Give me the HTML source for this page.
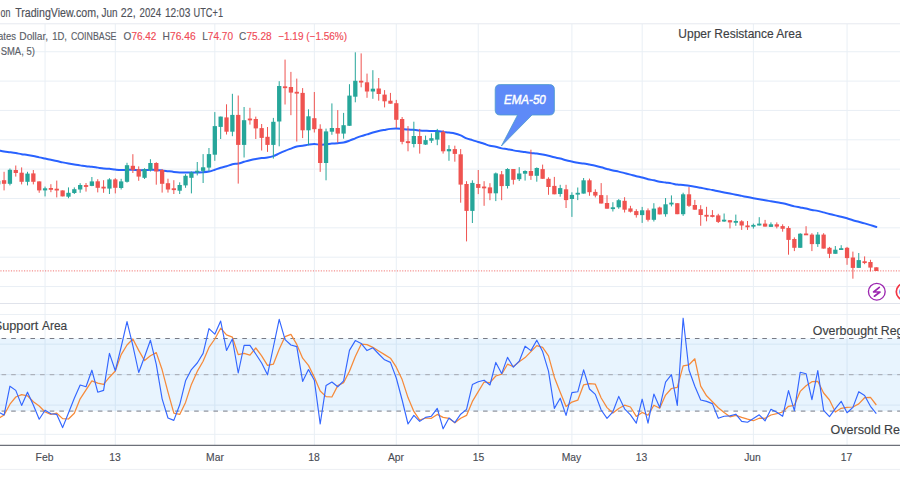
<!DOCTYPE html>
<html><head><meta charset="utf-8"><style>
html,body{margin:0;padding:0;width:900px;height:500px;overflow:hidden;background:#fff;}
body{position:relative;font-family:"Liberation Sans",sans-serif;}

</style></head><body>
<svg width="900" height="500" viewBox="0 0 900 500" style="position:absolute;left:0;top:0">
<rect width="900" height="500" fill="#fff"/>
<line x1="45.05" y1="24" x2="45.05" y2="303" stroke="#e9eff5" stroke-width="1"/>
<line x1="45.05" y1="303.5" x2="45.05" y2="445" stroke="#e9eff5" stroke-width="1"/>
<line x1="115.298" y1="24" x2="115.298" y2="303" stroke="#e9eff5" stroke-width="1"/>
<line x1="115.298" y1="303.5" x2="115.298" y2="445" stroke="#e9eff5" stroke-width="1"/>
<line x1="214.81599999999997" y1="24" x2="214.81599999999997" y2="303" stroke="#e9eff5" stroke-width="1"/>
<line x1="214.81599999999997" y1="303.5" x2="214.81599999999997" y2="445" stroke="#e9eff5" stroke-width="1"/>
<line x1="314.334" y1="24" x2="314.334" y2="303" stroke="#e9eff5" stroke-width="1"/>
<line x1="314.334" y1="303.5" x2="314.334" y2="445" stroke="#e9eff5" stroke-width="1"/>
<line x1="396.29" y1="24" x2="396.29" y2="303" stroke="#e9eff5" stroke-width="1"/>
<line x1="396.29" y1="303.5" x2="396.29" y2="445" stroke="#e9eff5" stroke-width="1"/>
<line x1="478.24600000000004" y1="24" x2="478.24600000000004" y2="303" stroke="#e9eff5" stroke-width="1"/>
<line x1="478.24600000000004" y1="303.5" x2="478.24600000000004" y2="445" stroke="#e9eff5" stroke-width="1"/>
<line x1="571.91" y1="24" x2="571.91" y2="303" stroke="#e9eff5" stroke-width="1"/>
<line x1="571.91" y1="303.5" x2="571.91" y2="445" stroke="#e9eff5" stroke-width="1"/>
<line x1="642.158" y1="24" x2="642.158" y2="303" stroke="#e9eff5" stroke-width="1"/>
<line x1="642.158" y1="303.5" x2="642.158" y2="445" stroke="#e9eff5" stroke-width="1"/>
<line x1="753.384" y1="24" x2="753.384" y2="303" stroke="#e9eff5" stroke-width="1"/>
<line x1="753.384" y1="303.5" x2="753.384" y2="445" stroke="#e9eff5" stroke-width="1"/>
<line x1="847.048" y1="24" x2="847.048" y2="303" stroke="#e9eff5" stroke-width="1"/>
<line x1="847.048" y1="303.5" x2="847.048" y2="445" stroke="#e9eff5" stroke-width="1"/>
<line x1="0" y1="51.75" x2="900" y2="51.75" stroke="#e9eff5" stroke-width="1"/>
<line x1="0" y1="81.1" x2="900" y2="81.1" stroke="#e9eff5" stroke-width="1"/>
<line x1="0" y1="110.45" x2="900" y2="110.45" stroke="#e9eff5" stroke-width="1"/>
<line x1="0" y1="139.8" x2="900" y2="139.8" stroke="#e9eff5" stroke-width="1"/>
<line x1="0" y1="169.15" x2="900" y2="169.15" stroke="#e9eff5" stroke-width="1"/>
<line x1="0" y1="198.5" x2="900" y2="198.5" stroke="#e9eff5" stroke-width="1"/>
<line x1="0" y1="227.85000000000002" x2="900" y2="227.85000000000002" stroke="#e9eff5" stroke-width="1"/>
<line x1="0" y1="257.20000000000005" x2="900" y2="257.20000000000005" stroke="#e9eff5" stroke-width="1"/>
<line x1="0" y1="286.55" x2="900" y2="286.55" stroke="#e9eff5" stroke-width="1"/>
<line x1="0" y1="314.5" x2="900" y2="314.5" stroke="#e9eff5" stroke-width="1" opacity="0.9"/>
<line x1="0" y1="344.2" x2="900" y2="344.2" stroke="#e9eff5" stroke-width="1" opacity="0.9"/>
<line x1="0" y1="374.6" x2="900" y2="374.6" stroke="#e9eff5" stroke-width="1" opacity="0.9"/>
<line x1="0" y1="405.1" x2="900" y2="405.1" stroke="#e9eff5" stroke-width="1" opacity="0.9"/>
<line x1="0" y1="434.35" x2="900" y2="434.35" stroke="#e9eff5" stroke-width="1" opacity="0.9"/>
<rect x="0" y="338.5" width="900" height="72.6" fill="#2196f3" fill-opacity="0.1"/>
<line x1="0" y1="23.8" x2="900" y2="23.8" stroke="#e6e9ef" stroke-width="1"/>
<line x1="0" y1="303.5" x2="900" y2="303.5" stroke="#e0e3eb" stroke-width="1"/>
<line x1="0" y1="445.3" x2="900" y2="445.3" stroke="#6d7079" stroke-width="1.3"/>
<line x1="0" y1="469.4" x2="900" y2="469.4" stroke="#eceff3" stroke-width="1"/>
<line x1="-8.08" y1="338.5" x2="900" y2="338.5" stroke="#787b86" stroke-width="1" stroke-dasharray="4.6 5.03"/>
<line x1="-8.08" y1="374.7" x2="900" y2="374.7" stroke="#a3a6ae" stroke-width="1" stroke-dasharray="4.6 5.03"/>
<line x1="-8.08" y1="411.1" x2="900" y2="411.1" stroke="#787b86" stroke-width="1" stroke-dasharray="4.6 5.03"/>
<line x1="-2.226" y1="270.9" x2="900" y2="270.9" stroke="#ef5350" stroke-width="1" stroke-dasharray="1.15 1.476" opacity="0.8"/>
<path d="M-7.64,149.0 C-6.66,149.21 -3.73,149.82 -1.78,150.25 C0.17,150.68 2.12,151.22 4.07,151.56 C6.02,151.90 7.98,152.03 9.93,152.28 C11.88,152.53 13.83,152.77 15.78,153.09 C17.73,153.41 19.68,153.91 21.63,154.22 C23.58,154.53 25.54,154.68 27.49,154.98 C29.44,155.28 31.39,155.63 33.34,156.03 C35.29,156.43 37.25,156.95 39.2,157.38 C41.15,157.81 43.10,158.19 45.05,158.59 C47.00,158.99 48.95,159.40 50.9,159.8 C52.85,160.20 54.81,160.56 56.76,160.99 C58.71,161.42 60.66,161.95 62.61,162.38 C64.56,162.81 66.52,163.20 68.47,163.57 C70.42,163.94 72.37,164.28 74.32,164.58 C76.27,164.88 78.22,165.11 80.17,165.38 C82.12,165.65 84.08,165.97 86.03,166.21 C87.98,166.45 89.93,166.57 91.88,166.81 C93.83,167.05 95.79,167.36 97.74,167.63 C99.69,167.90 101.64,168.22 103.59,168.43 C105.54,168.64 107.49,168.67 109.44,168.86 C111.39,169.06 113.35,169.40 115.3,169.6 C117.25,169.80 119.20,170.02 121.15,170.07 C123.10,170.12 125.06,169.90 127.01,169.87 C128.96,169.84 130.91,169.83 132.86,169.87 C134.81,169.91 136.76,170.10 138.71,170.14 C140.66,170.18 142.62,170.15 144.57,170.1 C146.52,170.05 148.47,169.85 150.42,169.82 C152.37,169.78 154.33,169.79 156.28,169.89 C158.23,169.99 160.18,170.22 162.13,170.43 C164.08,170.65 166.03,170.93 167.98,171.18 C169.93,171.43 171.89,171.70 173.84,171.91 C175.79,172.12 177.74,172.31 179.69,172.42 C181.64,172.53 183.60,172.54 185.55,172.56 C187.50,172.58 189.45,172.56 191.4,172.55 C193.35,172.54 195.30,172.54 197.25,172.49 C199.20,172.44 201.16,172.43 203.11,172.28 C205.06,172.13 207.01,171.98 208.96,171.57 C210.91,171.16 212.87,170.44 214.82,169.79 C216.77,169.14 218.72,168.28 220.67,167.7 C222.62,167.12 224.57,166.86 226.52,166.29 C228.47,165.72 230.43,164.73 232.38,164.27 C234.33,163.81 236.28,163.92 238.23,163.51 C240.18,163.10 242.14,162.37 244.09,161.81 C246.04,161.25 247.99,160.65 249.94,160.17 C251.89,159.69 253.84,159.28 255.79,158.93 C257.74,158.59 259.70,158.32 261.65,158.1 C263.60,157.88 265.55,157.90 267.5,157.58 C269.45,157.26 271.41,156.87 273.36,156.18 C275.31,155.49 277.26,154.32 279.21,153.43 C281.16,152.54 283.11,151.66 285.06,150.85 C287.01,150.04 288.97,149.31 290.92,148.57 C292.87,147.83 294.82,146.88 296.77,146.41 C298.72,145.94 300.68,146.07 302.63,145.77 C304.58,145.47 306.53,144.91 308.48,144.62 C310.43,144.33 312.38,143.99 314.33,144.01 C316.28,144.03 318.24,144.72 320.19,144.76 C322.14,144.80 324.09,144.42 326.04,144.23 C327.99,144.04 329.95,143.77 331.9,143.6 C333.85,143.43 335.80,143.39 337.75,143.21 C339.70,143.03 341.65,142.93 343.6,142.5 C345.55,142.07 347.51,141.36 349.46,140.66 C351.41,139.96 353.36,139.07 355.31,138.31 C357.26,137.55 359.22,136.78 361.17,136.12 C363.12,135.46 365.07,134.96 367.02,134.37 C368.97,133.78 370.92,133.13 372.87,132.58 C374.82,132.03 376.78,131.52 378.73,131.07 C380.68,130.62 382.63,130.27 384.58,129.9 C386.53,129.53 388.49,129.11 390.44,128.88 C392.39,128.65 394.34,128.49 396.29,128.52 C398.24,128.55 400.19,128.86 402.14,129.04 C404.09,129.22 406.05,129.46 408.0,129.59 C409.95,129.72 411.90,129.71 413.85,129.84 C415.80,129.97 417.76,130.24 419.71,130.4 C421.66,130.56 423.61,130.67 425.56,130.78 C427.51,130.89 429.46,131.02 431.41,131.07 C433.36,131.12 435.32,130.96 437.27,131.1 C439.22,131.24 441.17,131.64 443.12,131.89 C445.07,132.13 447.03,132.32 448.98,132.57 C450.93,132.82 452.88,132.94 454.83,133.41 C456.78,133.88 458.73,134.58 460.68,135.41 C462.63,136.24 464.59,137.59 466.54,138.37 C468.49,139.16 470.44,139.52 472.39,140.12 C474.34,140.72 476.30,141.38 478.25,141.99 C480.20,142.60 482.15,143.17 484.1,143.79 C486.05,144.41 488.00,145.22 489.95,145.73 C491.90,146.23 493.86,146.38 495.81,146.82 C497.76,147.26 499.71,147.97 501.66,148.36 C503.61,148.75 505.57,148.83 507.52,149.17 C509.47,149.50 511.42,150.02 513.37,150.37 C515.32,150.72 517.27,151.00 519.22,151.28 C521.17,151.56 523.13,151.77 525.08,152.05 C527.03,152.33 528.98,152.73 530.93,152.98 C532.88,153.23 534.84,153.31 536.79,153.57 C538.74,153.83 540.69,154.18 542.64,154.56 C544.59,154.94 546.54,155.37 548.49,155.83 C550.44,156.29 552.40,156.89 554.35,157.34 C556.30,157.79 558.25,158.08 560.2,158.55 C562.15,159.02 564.11,159.68 566.06,160.18 C568.01,160.68 569.96,161.10 571.91,161.54 C573.86,161.97 575.81,162.47 577.76,162.79 C579.71,163.11 581.67,163.18 583.62,163.48 C585.57,163.78 587.52,164.21 589.47,164.6 C591.42,164.99 593.38,165.37 595.33,165.82 C597.28,166.27 599.23,166.77 601.18,167.29 C603.13,167.81 605.08,168.39 607.03,168.92 C608.98,169.44 610.94,169.99 612.89,170.44 C614.84,170.89 616.79,171.17 618.74,171.61 C620.69,172.05 622.65,172.60 624.6,173.1 C626.55,173.60 628.50,174.09 630.45,174.61 C632.40,175.13 634.35,175.71 636.3,176.2 C638.25,176.69 640.21,177.04 642.16,177.54 C644.11,178.04 646.06,178.73 648.01,179.2 C649.96,179.67 651.92,179.94 653.87,180.35 C655.82,180.76 657.77,181.31 659.72,181.68 C661.67,182.05 663.62,182.29 665.57,182.57 C667.52,182.85 669.48,183.04 671.43,183.38 C673.38,183.72 675.33,184.32 677.28,184.59 C679.23,184.86 681.19,184.77 683.14,184.97 C685.09,185.17 687.04,185.50 688.99,185.79 C690.94,186.08 692.89,186.38 694.84,186.72 C696.79,187.06 698.75,187.46 700.7,187.83 C702.65,188.20 704.60,188.58 706.55,188.95 C708.50,189.32 710.46,189.65 712.41,190.04 C714.36,190.43 716.31,190.89 718.26,191.29 C720.21,191.69 722.16,192.03 724.11,192.41 C726.06,192.79 728.02,193.21 729.97,193.59 C731.92,193.97 733.87,194.30 735.82,194.68 C737.77,195.06 739.73,195.48 741.68,195.88 C743.63,196.28 745.58,196.71 747.53,197.1 C749.48,197.49 751.43,197.85 753.38,198.2 C755.33,198.55 757.29,198.85 759.24,199.2 C761.19,199.54 763.14,199.93 765.09,200.27 C767.04,200.61 769.00,200.90 770.95,201.22 C772.90,201.54 774.85,201.87 776.8,202.21 C778.75,202.55 780.70,202.84 782.65,203.25 C784.60,203.66 786.56,204.17 788.51,204.69 C790.46,205.21 792.41,205.92 794.36,206.38 C796.31,206.84 798.27,207.09 800.22,207.45 C802.17,207.81 804.12,208.12 806.07,208.53 C808.02,208.94 809.97,209.53 811.92,209.92 C813.87,210.31 815.83,210.48 817.78,210.89 C819.73,211.30 821.68,211.85 823.63,212.37 C825.58,212.89 827.54,213.49 829.49,213.99 C831.44,214.49 833.39,214.94 835.34,215.39 C837.29,215.84 839.24,216.19 841.19,216.68 C843.14,217.17 845.10,217.71 847.05,218.3 C849.00,218.90 850.95,219.66 852.9,220.25 C854.85,220.84 856.81,221.28 858.76,221.81 C860.71,222.34 862.66,222.85 864.61,223.41 C866.56,223.97 868.51,224.55 870.46,225.14 C872.41,225.73 875.34,226.64 876.32,226.94" fill="none" stroke="#2962ff" stroke-width="2" stroke-linejoin="round" stroke-linecap="round"/>
<line x1="-1.78" y1="179.5" x2="-1.78" y2="185.5" stroke="#26a69a" stroke-width="1"/>
<rect x="-3.93" y="180.8" width="4.3" height="3.60" fill="#26a69a"/>
<line x1="4.07" y1="171.8" x2="4.07" y2="190.4" stroke="#ef5350" stroke-width="1"/>
<rect x="1.92" y="180.2" width="4.3" height="3.60" fill="#ef5350"/>
<line x1="9.93" y1="168.5" x2="9.93" y2="185.4" stroke="#26a69a" stroke-width="1"/>
<rect x="7.78" y="169.8" width="4.3" height="14.00" fill="#26a69a"/>
<line x1="15.78" y1="165.5" x2="15.78" y2="176.6" stroke="#ef5350" stroke-width="1"/>
<rect x="13.63" y="170.0" width="4.3" height="3.00" fill="#ef5350"/>
<line x1="21.63" y1="167.4" x2="21.63" y2="184.4" stroke="#ef5350" stroke-width="1"/>
<rect x="19.48" y="172.7" width="4.3" height="9.10" fill="#ef5350"/>
<line x1="27.49" y1="171.8" x2="27.49" y2="185.4" stroke="#26a69a" stroke-width="1"/>
<rect x="25.34" y="173.6" width="4.3" height="8.20" fill="#26a69a"/>
<line x1="33.34" y1="170.0" x2="33.34" y2="184.4" stroke="#ef5350" stroke-width="1"/>
<rect x="31.19" y="173.4" width="4.3" height="8.40" fill="#ef5350"/>
<line x1="39.20" y1="181.4" x2="39.20" y2="192.8" stroke="#ef5350" stroke-width="1"/>
<rect x="37.05" y="181.4" width="4.3" height="9.00" fill="#ef5350"/>
<line x1="45.05" y1="186.6" x2="45.05" y2="196.4" stroke="#26a69a" stroke-width="1"/>
<rect x="42.90" y="188.3" width="4.3" height="2.10" fill="#26a69a"/>
<line x1="50.90" y1="184.2" x2="50.90" y2="192.2" stroke="#ef5350" stroke-width="1"/>
<rect x="48.75" y="188.0" width="4.3" height="1.80" fill="#ef5350"/>
<line x1="56.76" y1="180.6" x2="56.76" y2="197.4" stroke="#ef5350" stroke-width="1"/>
<rect x="54.61" y="188.7" width="4.3" height="1.80" fill="#ef5350"/>
<line x1="62.61" y1="190.4" x2="62.61" y2="196.4" stroke="#ef5350" stroke-width="1"/>
<rect x="60.46" y="190.4" width="4.3" height="6.00" fill="#ef5350"/>
<line x1="68.47" y1="187.4" x2="68.47" y2="198.2" stroke="#26a69a" stroke-width="1"/>
<rect x="66.32" y="192.8" width="4.3" height="3.90" fill="#26a69a"/>
<line x1="74.32" y1="187.4" x2="74.32" y2="194.0" stroke="#26a69a" stroke-width="1"/>
<rect x="72.17" y="189.2" width="4.3" height="3.80" fill="#26a69a"/>
<line x1="80.17" y1="183.2" x2="80.17" y2="192.8" stroke="#26a69a" stroke-width="1"/>
<rect x="78.02" y="185.0" width="4.3" height="4.50" fill="#26a69a"/>
<line x1="86.03" y1="183.0" x2="86.03" y2="191.6" stroke="#ef5350" stroke-width="1"/>
<rect x="83.88" y="185.1" width="4.3" height="1.80" fill="#ef5350"/>
<line x1="91.88" y1="177.0" x2="91.88" y2="186.2" stroke="#26a69a" stroke-width="1"/>
<rect x="89.73" y="181.4" width="4.3" height="4.50" fill="#26a69a"/>
<line x1="97.74" y1="179.2" x2="97.74" y2="192.4" stroke="#ef5350" stroke-width="1"/>
<rect x="95.59" y="181.3" width="4.3" height="6.50" fill="#ef5350"/>
<line x1="103.59" y1="180.2" x2="103.59" y2="192.8" stroke="#ef5350" stroke-width="1"/>
<rect x="101.44" y="186.7" width="4.3" height="1.80" fill="#ef5350"/>
<line x1="109.44" y1="178.2" x2="109.44" y2="194.0" stroke="#26a69a" stroke-width="1"/>
<rect x="107.29" y="179.4" width="4.3" height="9.20" fill="#26a69a"/>
<line x1="115.30" y1="178.2" x2="115.30" y2="193.4" stroke="#ef5350" stroke-width="1"/>
<rect x="113.15" y="179.4" width="4.3" height="8.40" fill="#ef5350"/>
<line x1="121.15" y1="178.8" x2="121.15" y2="189.5" stroke="#26a69a" stroke-width="1"/>
<rect x="119.00" y="181.4" width="4.3" height="6.60" fill="#26a69a"/>
<line x1="127.01" y1="162.8" x2="127.01" y2="182.6" stroke="#26a69a" stroke-width="1"/>
<rect x="124.86" y="165.2" width="4.3" height="16.60" fill="#26a69a"/>
<line x1="132.86" y1="154.2" x2="132.86" y2="173.0" stroke="#ef5350" stroke-width="1"/>
<rect x="130.71" y="165.8" width="4.3" height="4.00" fill="#ef5350"/>
<line x1="138.71" y1="166.4" x2="138.71" y2="180.8" stroke="#ef5350" stroke-width="1"/>
<rect x="136.56" y="169.2" width="4.3" height="7.40" fill="#ef5350"/>
<line x1="144.57" y1="168.2" x2="144.57" y2="179.0" stroke="#26a69a" stroke-width="1"/>
<rect x="142.42" y="169.2" width="4.3" height="8.60" fill="#26a69a"/>
<line x1="150.42" y1="159.2" x2="150.42" y2="171.5" stroke="#26a69a" stroke-width="1"/>
<rect x="148.27" y="163.0" width="4.3" height="7.00" fill="#26a69a"/>
<line x1="156.28" y1="162.2" x2="156.28" y2="184.7" stroke="#ef5350" stroke-width="1"/>
<rect x="154.13" y="163.0" width="4.3" height="8.50" fill="#ef5350"/>
<line x1="162.13" y1="169.0" x2="162.13" y2="192.6" stroke="#ef5350" stroke-width="1"/>
<rect x="159.98" y="170.0" width="4.3" height="13.80" fill="#ef5350"/>
<line x1="167.98" y1="178.7" x2="167.98" y2="192.6" stroke="#ef5350" stroke-width="1"/>
<rect x="165.83" y="183.2" width="4.3" height="6.30" fill="#ef5350"/>
<line x1="173.84" y1="180.2" x2="173.84" y2="194.0" stroke="#ef5350" stroke-width="1"/>
<rect x="171.69" y="188.29999999999998" width="4.3" height="1.80" fill="#ef5350"/>
<line x1="179.69" y1="182.3" x2="179.69" y2="194.0" stroke="#26a69a" stroke-width="1"/>
<rect x="177.54" y="185.0" width="4.3" height="5.70" fill="#26a69a"/>
<line x1="185.55" y1="174.2" x2="185.55" y2="187.8" stroke="#26a69a" stroke-width="1"/>
<rect x="183.40" y="175.8" width="4.3" height="9.60" fill="#26a69a"/>
<line x1="191.40" y1="171.5" x2="191.40" y2="193.4" stroke="#26a69a" stroke-width="1"/>
<rect x="189.25" y="172.4" width="4.3" height="5.40" fill="#26a69a"/>
<line x1="197.25" y1="162.0" x2="197.25" y2="175.4" stroke="#26a69a" stroke-width="1"/>
<rect x="195.10" y="170.70000000000002" width="4.3" height="1.80" fill="#26a69a"/>
<line x1="203.11" y1="154.1" x2="203.11" y2="183.0" stroke="#26a69a" stroke-width="1"/>
<rect x="200.96" y="167.3" width="4.3" height="3.60" fill="#26a69a"/>
<line x1="208.96" y1="148.0" x2="208.96" y2="170.9" stroke="#26a69a" stroke-width="1"/>
<rect x="206.81" y="154.1" width="4.3" height="13.50" fill="#26a69a"/>
<line x1="214.82" y1="112.1" x2="214.82" y2="160.8" stroke="#26a69a" stroke-width="1"/>
<rect x="212.67" y="126.1" width="4.3" height="28.60" fill="#26a69a"/>
<line x1="220.67" y1="116.6" x2="220.67" y2="139.0" stroke="#26a69a" stroke-width="1"/>
<rect x="218.52" y="116.6" width="4.3" height="10.30" fill="#26a69a"/>
<line x1="226.52" y1="104.3" x2="226.52" y2="134.5" stroke="#ef5350" stroke-width="1"/>
<rect x="224.37" y="117.4" width="4.3" height="14.30" fill="#ef5350"/>
<line x1="232.38" y1="93.8" x2="232.38" y2="136.2" stroke="#26a69a" stroke-width="1"/>
<rect x="230.23" y="114.9" width="4.3" height="16.80" fill="#26a69a"/>
<line x1="238.23" y1="95.5" x2="238.23" y2="183.6" stroke="#ef5350" stroke-width="1"/>
<rect x="236.08" y="114.9" width="4.3" height="30.00" fill="#ef5350"/>
<line x1="244.09" y1="107.0" x2="244.09" y2="157.5" stroke="#26a69a" stroke-width="1"/>
<rect x="241.94" y="120.2" width="4.3" height="24.70" fill="#26a69a"/>
<line x1="249.94" y1="107.8" x2="249.94" y2="124.6" stroke="#ef5350" stroke-width="1"/>
<rect x="247.79" y="118.55" width="4.3" height="1.80" fill="#ef5350"/>
<line x1="255.79" y1="116.6" x2="255.79" y2="139.0" stroke="#ef5350" stroke-width="1"/>
<rect x="253.64" y="119.0" width="4.3" height="9.40" fill="#ef5350"/>
<line x1="261.65" y1="124.0" x2="261.65" y2="150.5" stroke="#ef5350" stroke-width="1"/>
<rect x="259.50" y="128.1" width="4.3" height="9.80" fill="#ef5350"/>
<line x1="267.50" y1="127.0" x2="267.50" y2="151.9" stroke="#ef5350" stroke-width="1"/>
<rect x="265.35" y="136.8" width="4.3" height="8.10" fill="#ef5350"/>
<line x1="273.36" y1="117.9" x2="273.36" y2="158.6" stroke="#26a69a" stroke-width="1"/>
<rect x="271.21" y="121.8" width="4.3" height="23.10" fill="#26a69a"/>
<line x1="279.21" y1="81.2" x2="279.21" y2="146.3" stroke="#26a69a" stroke-width="1"/>
<rect x="277.06" y="86.0" width="4.3" height="35.50" fill="#26a69a"/>
<line x1="285.06" y1="59.6" x2="285.06" y2="104.5" stroke="#ef5350" stroke-width="1"/>
<rect x="282.91" y="86.35" width="4.3" height="1.80" fill="#ef5350"/>
<line x1="290.92" y1="71.9" x2="290.92" y2="115.2" stroke="#ef5350" stroke-width="1"/>
<rect x="288.77" y="87.0" width="4.3" height="5.60" fill="#ef5350"/>
<line x1="296.77" y1="78.6" x2="296.77" y2="141.5" stroke="#ef5350" stroke-width="1"/>
<rect x="294.62" y="91.8" width="4.3" height="1.80" fill="#ef5350"/>
<line x1="302.63" y1="88.1" x2="302.63" y2="138.1" stroke="#ef5350" stroke-width="1"/>
<rect x="300.48" y="92.9" width="4.3" height="37.40" fill="#ef5350"/>
<line x1="308.48" y1="109.3" x2="308.48" y2="145.4" stroke="#26a69a" stroke-width="1"/>
<rect x="306.33" y="116.3" width="4.3" height="14.00" fill="#26a69a"/>
<line x1="314.33" y1="92.0" x2="314.33" y2="132.5" stroke="#ef5350" stroke-width="1"/>
<rect x="312.18" y="118.2" width="4.3" height="11.00" fill="#ef5350"/>
<line x1="320.19" y1="124.3" x2="320.19" y2="171.9" stroke="#ef5350" stroke-width="1"/>
<rect x="318.04" y="128.8" width="4.3" height="34.20" fill="#ef5350"/>
<line x1="326.04" y1="128.6" x2="326.04" y2="180.3" stroke="#26a69a" stroke-width="1"/>
<rect x="323.89" y="131.4" width="4.3" height="31.60" fill="#26a69a"/>
<line x1="331.90" y1="103.4" x2="331.90" y2="134.8" stroke="#26a69a" stroke-width="1"/>
<rect x="329.75" y="128.0" width="4.3" height="3.70" fill="#26a69a"/>
<line x1="337.75" y1="110.1" x2="337.75" y2="142.6" stroke="#ef5350" stroke-width="1"/>
<rect x="335.60" y="128.0" width="4.3" height="5.60" fill="#ef5350"/>
<line x1="343.60" y1="112.9" x2="343.60" y2="138.7" stroke="#26a69a" stroke-width="1"/>
<rect x="341.45" y="125.2" width="4.3" height="8.40" fill="#26a69a"/>
<line x1="349.46" y1="84.2" x2="349.46" y2="125.8" stroke="#26a69a" stroke-width="1"/>
<rect x="347.31" y="95.6" width="4.3" height="30.20" fill="#26a69a"/>
<line x1="355.31" y1="52.3" x2="355.31" y2="102.3" stroke="#26a69a" stroke-width="1"/>
<rect x="353.16" y="80.8" width="4.3" height="15.90" fill="#26a69a"/>
<line x1="361.17" y1="53.4" x2="361.17" y2="87.3" stroke="#ef5350" stroke-width="1"/>
<rect x="359.02" y="80.75" width="4.3" height="1.80" fill="#ef5350"/>
<line x1="367.02" y1="73.6" x2="367.02" y2="97.8" stroke="#ef5350" stroke-width="1"/>
<rect x="364.87" y="82.3" width="4.3" height="9.20" fill="#ef5350"/>
<line x1="372.87" y1="70.2" x2="372.87" y2="98.8" stroke="#26a69a" stroke-width="1"/>
<rect x="370.72" y="88.7" width="4.3" height="2.80" fill="#26a69a"/>
<line x1="378.73" y1="78.0" x2="378.73" y2="100.7" stroke="#ef5350" stroke-width="1"/>
<rect x="376.58" y="88.5" width="4.3" height="5.50" fill="#ef5350"/>
<line x1="384.58" y1="90.1" x2="384.58" y2="107.4" stroke="#ef5350" stroke-width="1"/>
<rect x="382.43" y="94.6" width="4.3" height="6.70" fill="#ef5350"/>
<line x1="390.44" y1="92.9" x2="390.44" y2="103.7" stroke="#ef5350" stroke-width="1"/>
<rect x="388.29" y="100.7" width="4.3" height="3.00" fill="#ef5350"/>
<line x1="396.29" y1="99.9" x2="396.29" y2="128.0" stroke="#ef5350" stroke-width="1"/>
<rect x="394.14" y="103.2" width="4.3" height="16.60" fill="#ef5350"/>
<line x1="402.14" y1="117.0" x2="402.14" y2="144.3" stroke="#ef5350" stroke-width="1"/>
<rect x="399.99" y="119.0" width="4.3" height="22.80" fill="#ef5350"/>
<line x1="408.00" y1="126.1" x2="408.00" y2="151.3" stroke="#ef5350" stroke-width="1"/>
<rect x="405.85" y="141.2" width="4.3" height="1.90" fill="#ef5350"/>
<line x1="413.85" y1="121.7" x2="413.85" y2="147.4" stroke="#26a69a" stroke-width="1"/>
<rect x="411.70" y="136.0" width="4.3" height="8.00" fill="#26a69a"/>
<line x1="419.71" y1="128.9" x2="419.71" y2="153.6" stroke="#ef5350" stroke-width="1"/>
<rect x="417.56" y="136.0" width="4.3" height="8.00" fill="#ef5350"/>
<line x1="425.56" y1="135.6" x2="425.56" y2="145.0" stroke="#26a69a" stroke-width="1"/>
<rect x="423.41" y="140.1" width="4.3" height="4.50" fill="#26a69a"/>
<line x1="431.41" y1="133.4" x2="431.41" y2="142.9" stroke="#26a69a" stroke-width="1"/>
<rect x="429.26" y="138.2" width="4.3" height="2.50" fill="#26a69a"/>
<line x1="437.27" y1="128.9" x2="437.27" y2="145.2" stroke="#26a69a" stroke-width="1"/>
<rect x="435.12" y="131.9" width="4.3" height="7.70" fill="#26a69a"/>
<line x1="443.12" y1="130.0" x2="443.12" y2="153.6" stroke="#ef5350" stroke-width="1"/>
<rect x="440.97" y="131.9" width="4.3" height="19.40" fill="#ef5350"/>
<line x1="448.98" y1="145.2" x2="448.98" y2="160.8" stroke="#26a69a" stroke-width="1"/>
<rect x="446.83" y="149.1" width="4.3" height="2.20" fill="#26a69a"/>
<line x1="454.83" y1="145.7" x2="454.83" y2="161.7" stroke="#ef5350" stroke-width="1"/>
<rect x="452.68" y="149.1" width="4.3" height="4.80" fill="#ef5350"/>
<line x1="460.68" y1="149.1" x2="460.68" y2="202.7" stroke="#ef5350" stroke-width="1"/>
<rect x="458.53" y="154.3" width="4.3" height="30.30" fill="#ef5350"/>
<line x1="466.54" y1="181.2" x2="466.54" y2="241.4" stroke="#ef5350" stroke-width="1"/>
<rect x="464.39" y="184.0" width="4.3" height="26.90" fill="#ef5350"/>
<line x1="472.39" y1="180.3" x2="472.39" y2="223.0" stroke="#26a69a" stroke-width="1"/>
<rect x="470.24" y="182.9" width="4.3" height="28.00" fill="#26a69a"/>
<line x1="478.25" y1="170.0" x2="478.25" y2="194.1" stroke="#ef5350" stroke-width="1"/>
<rect x="476.10" y="184.0" width="4.3" height="3.90" fill="#ef5350"/>
<line x1="484.10" y1="181.2" x2="484.10" y2="205.8" stroke="#ef5350" stroke-width="1"/>
<rect x="481.95" y="186.54999999999998" width="4.3" height="1.80" fill="#ef5350"/>
<line x1="489.95" y1="183.2" x2="489.95" y2="200.2" stroke="#ef5350" stroke-width="1"/>
<rect x="487.80" y="187.4" width="4.3" height="5.90" fill="#ef5350"/>
<line x1="495.81" y1="172.5" x2="495.81" y2="201.1" stroke="#26a69a" stroke-width="1"/>
<rect x="493.66" y="173.4" width="4.3" height="19.90" fill="#26a69a"/>
<line x1="501.66" y1="171.0" x2="501.66" y2="200.2" stroke="#ef5350" stroke-width="1"/>
<rect x="499.51" y="174.3" width="4.3" height="11.80" fill="#ef5350"/>
<line x1="507.52" y1="168.2" x2="507.52" y2="188.5" stroke="#26a69a" stroke-width="1"/>
<rect x="505.37" y="169.0" width="4.3" height="17.00" fill="#26a69a"/>
<line x1="513.37" y1="169.0" x2="513.37" y2="184.5" stroke="#ef5350" stroke-width="1"/>
<rect x="511.22" y="169.0" width="4.3" height="10.80" fill="#ef5350"/>
<line x1="519.22" y1="167.2" x2="519.22" y2="181.0" stroke="#26a69a" stroke-width="1"/>
<rect x="517.07" y="173.5" width="4.3" height="5.70" fill="#26a69a"/>
<line x1="525.08" y1="170.3" x2="525.08" y2="180.6" stroke="#26a69a" stroke-width="1"/>
<rect x="522.93" y="171.0" width="4.3" height="2.70" fill="#26a69a"/>
<line x1="530.93" y1="149.7" x2="530.93" y2="179.9" stroke="#ef5350" stroke-width="1"/>
<rect x="528.78" y="171.0" width="4.3" height="4.80" fill="#ef5350"/>
<line x1="536.79" y1="167.4" x2="536.79" y2="181.7" stroke="#26a69a" stroke-width="1"/>
<rect x="534.64" y="168.0" width="4.3" height="7.80" fill="#26a69a"/>
<line x1="542.64" y1="164.6" x2="542.64" y2="178.8" stroke="#ef5350" stroke-width="1"/>
<rect x="540.49" y="169.1" width="4.3" height="9.70" fill="#ef5350"/>
<line x1="548.49" y1="177.3" x2="548.49" y2="194.8" stroke="#ef5350" stroke-width="1"/>
<rect x="546.34" y="178.8" width="4.3" height="8.20" fill="#ef5350"/>
<line x1="554.35" y1="176.9" x2="554.35" y2="194.3" stroke="#ef5350" stroke-width="1"/>
<rect x="552.20" y="185.9" width="4.3" height="8.40" fill="#ef5350"/>
<line x1="560.20" y1="184.8" x2="560.20" y2="196.7" stroke="#26a69a" stroke-width="1"/>
<rect x="558.05" y="188.1" width="4.3" height="5.90" fill="#26a69a"/>
<line x1="566.06" y1="184.8" x2="566.06" y2="208.0" stroke="#ef5350" stroke-width="1"/>
<rect x="563.91" y="189.3" width="4.3" height="10.80" fill="#ef5350"/>
<line x1="571.91" y1="192.3" x2="571.91" y2="216.9" stroke="#26a69a" stroke-width="1"/>
<rect x="569.76" y="194.9" width="4.3" height="4.10" fill="#26a69a"/>
<line x1="577.76" y1="187.5" x2="577.76" y2="200.1" stroke="#26a69a" stroke-width="1"/>
<rect x="575.61" y="192.79999999999998" width="4.3" height="1.80" fill="#26a69a"/>
<line x1="583.62" y1="178.0" x2="583.62" y2="193.6" stroke="#26a69a" stroke-width="1"/>
<rect x="581.47" y="180.3" width="4.3" height="13.30" fill="#26a69a"/>
<line x1="589.47" y1="178.6" x2="589.47" y2="195.8" stroke="#ef5350" stroke-width="1"/>
<rect x="587.32" y="180.3" width="4.3" height="11.90" fill="#ef5350"/>
<line x1="595.33" y1="189.3" x2="595.33" y2="197.4" stroke="#ef5350" stroke-width="1"/>
<rect x="593.18" y="191.9" width="4.3" height="3.70" fill="#ef5350"/>
<line x1="601.18" y1="183.1" x2="601.18" y2="203.5" stroke="#ef5350" stroke-width="1"/>
<rect x="599.03" y="195.1" width="4.3" height="8.40" fill="#ef5350"/>
<line x1="607.03" y1="195.2" x2="607.03" y2="208.7" stroke="#ef5350" stroke-width="1"/>
<rect x="604.88" y="203.0" width="4.3" height="5.70" fill="#ef5350"/>
<line x1="612.89" y1="202.2" x2="612.89" y2="211.5" stroke="#26a69a" stroke-width="1"/>
<rect x="610.74" y="207.29999999999998" width="4.3" height="1.80" fill="#26a69a"/>
<line x1="618.74" y1="199.1" x2="618.74" y2="208.8" stroke="#26a69a" stroke-width="1"/>
<rect x="616.59" y="200.2" width="4.3" height="7.10" fill="#26a69a"/>
<line x1="624.60" y1="197.2" x2="624.60" y2="212.5" stroke="#ef5350" stroke-width="1"/>
<rect x="622.45" y="200.8" width="4.3" height="8.90" fill="#ef5350"/>
<line x1="630.45" y1="205.8" x2="630.45" y2="212.5" stroke="#ef5350" stroke-width="1"/>
<rect x="628.30" y="208.4" width="4.3" height="3.30" fill="#ef5350"/>
<line x1="636.30" y1="209.2" x2="636.30" y2="217.6" stroke="#ef5350" stroke-width="1"/>
<rect x="634.15" y="211.1" width="4.3" height="4.00" fill="#ef5350"/>
<line x1="642.16" y1="206.9" x2="642.16" y2="222.9" stroke="#26a69a" stroke-width="1"/>
<rect x="640.01" y="210.3" width="4.3" height="4.80" fill="#26a69a"/>
<line x1="648.01" y1="208.4" x2="648.01" y2="221.5" stroke="#ef5350" stroke-width="1"/>
<rect x="645.86" y="210.3" width="4.3" height="9.50" fill="#ef5350"/>
<line x1="653.87" y1="203.2" x2="653.87" y2="221.5" stroke="#26a69a" stroke-width="1"/>
<rect x="651.72" y="208.6" width="4.3" height="11.20" fill="#26a69a"/>
<line x1="659.72" y1="206.6" x2="659.72" y2="214.4" stroke="#ef5350" stroke-width="1"/>
<rect x="657.57" y="207.5" width="4.3" height="6.90" fill="#ef5350"/>
<line x1="665.57" y1="198.0" x2="665.57" y2="216.7" stroke="#26a69a" stroke-width="1"/>
<rect x="663.42" y="204.3" width="4.3" height="9.90" fill="#26a69a"/>
<line x1="671.43" y1="195.4" x2="671.43" y2="206.4" stroke="#26a69a" stroke-width="1"/>
<rect x="669.28" y="202.65" width="4.3" height="1.80" fill="#26a69a"/>
<line x1="677.28" y1="203.2" x2="677.28" y2="214.2" stroke="#ef5350" stroke-width="1"/>
<rect x="675.13" y="203.2" width="4.3" height="11.00" fill="#ef5350"/>
<line x1="683.14" y1="192.7" x2="683.14" y2="215.9" stroke="#26a69a" stroke-width="1"/>
<rect x="680.99" y="194.3" width="4.3" height="19.90" fill="#26a69a"/>
<line x1="688.99" y1="187.1" x2="688.99" y2="206.9" stroke="#ef5350" stroke-width="1"/>
<rect x="686.84" y="194.3" width="4.3" height="11.50" fill="#ef5350"/>
<line x1="694.84" y1="199.9" x2="694.84" y2="209.7" stroke="#ef5350" stroke-width="1"/>
<rect x="692.69" y="205.0" width="4.3" height="4.70" fill="#ef5350"/>
<line x1="700.70" y1="205.2" x2="700.70" y2="225.8" stroke="#ef5350" stroke-width="1"/>
<rect x="698.55" y="209.2" width="4.3" height="5.80" fill="#ef5350"/>
<line x1="706.55" y1="206.8" x2="706.55" y2="221.3" stroke="#ef5350" stroke-width="1"/>
<rect x="704.40" y="214.85" width="4.3" height="1.80" fill="#ef5350"/>
<line x1="712.41" y1="210.1" x2="712.41" y2="217.4" stroke="#ef5350" stroke-width="1"/>
<rect x="710.26" y="215.1" width="4.3" height="1.80" fill="#ef5350"/>
<line x1="718.26" y1="213.8" x2="718.26" y2="223.0" stroke="#ef5350" stroke-width="1"/>
<rect x="716.11" y="215.4" width="4.3" height="6.50" fill="#ef5350"/>
<line x1="724.11" y1="213.5" x2="724.11" y2="221.9" stroke="#26a69a" stroke-width="1"/>
<rect x="721.96" y="219.70000000000002" width="4.3" height="1.80" fill="#26a69a"/>
<line x1="729.97" y1="220.2" x2="729.97" y2="228.4" stroke="#ef5350" stroke-width="1"/>
<rect x="727.82" y="220.2" width="4.3" height="2.20" fill="#ef5350"/>
<line x1="735.82" y1="214.6" x2="735.82" y2="225.8" stroke="#26a69a" stroke-width="1"/>
<rect x="733.67" y="220.95000000000002" width="4.3" height="1.80" fill="#26a69a"/>
<line x1="741.68" y1="220.2" x2="741.68" y2="229.9" stroke="#ef5350" stroke-width="1"/>
<rect x="739.53" y="221.3" width="4.3" height="4.20" fill="#ef5350"/>
<line x1="747.53" y1="221.0" x2="747.53" y2="229.9" stroke="#ef5350" stroke-width="1"/>
<rect x="745.38" y="225.45000000000002" width="4.3" height="1.80" fill="#ef5350"/>
<line x1="753.38" y1="223.6" x2="753.38" y2="228.6" stroke="#26a69a" stroke-width="1"/>
<rect x="751.23" y="224.9" width="4.3" height="1.80" fill="#26a69a"/>
<line x1="759.24" y1="217.2" x2="759.24" y2="225.5" stroke="#26a69a" stroke-width="1"/>
<rect x="757.09" y="223.6" width="4.3" height="1.90" fill="#26a69a"/>
<line x1="765.09" y1="219.9" x2="765.09" y2="226.6" stroke="#ef5350" stroke-width="1"/>
<rect x="762.94" y="223.6" width="4.3" height="3.00" fill="#ef5350"/>
<line x1="770.95" y1="222.4" x2="770.95" y2="226.9" stroke="#26a69a" stroke-width="1"/>
<rect x="768.80" y="224.3" width="4.3" height="2.60" fill="#26a69a"/>
<line x1="776.80" y1="222.4" x2="776.80" y2="228.4" stroke="#ef5350" stroke-width="1"/>
<rect x="774.65" y="224.3" width="4.3" height="2.30" fill="#ef5350"/>
<line x1="782.65" y1="224.3" x2="782.65" y2="231.7" stroke="#ef5350" stroke-width="1"/>
<rect x="780.50" y="226.1" width="4.3" height="2.70" fill="#ef5350"/>
<line x1="788.51" y1="226.2" x2="788.51" y2="254.7" stroke="#ef5350" stroke-width="1"/>
<rect x="786.36" y="228.0" width="4.3" height="11.90" fill="#ef5350"/>
<line x1="794.36" y1="237.4" x2="794.36" y2="251.1" stroke="#ef5350" stroke-width="1"/>
<rect x="792.21" y="239.0" width="4.3" height="8.80" fill="#ef5350"/>
<line x1="800.22" y1="233.2" x2="800.22" y2="247.8" stroke="#26a69a" stroke-width="1"/>
<rect x="798.07" y="233.7" width="4.3" height="14.10" fill="#26a69a"/>
<line x1="806.07" y1="226.2" x2="806.07" y2="234.8" stroke="#ef5350" stroke-width="1"/>
<rect x="803.92" y="233.5" width="4.3" height="1.80" fill="#ef5350"/>
<line x1="811.92" y1="233.2" x2="811.92" y2="251.1" stroke="#ef5350" stroke-width="1"/>
<rect x="809.77" y="234.6" width="4.3" height="9.50" fill="#ef5350"/>
<line x1="817.78" y1="232.1" x2="817.78" y2="246.9" stroke="#26a69a" stroke-width="1"/>
<rect x="815.63" y="234.6" width="4.3" height="9.50" fill="#26a69a"/>
<line x1="823.63" y1="233.2" x2="823.63" y2="248.6" stroke="#ef5350" stroke-width="1"/>
<rect x="821.48" y="234.6" width="4.3" height="14.00" fill="#ef5350"/>
<line x1="829.49" y1="246.9" x2="829.49" y2="258.1" stroke="#ef5350" stroke-width="1"/>
<rect x="827.34" y="247.8" width="4.3" height="6.00" fill="#ef5350"/>
<line x1="835.34" y1="246.0" x2="835.34" y2="253.8" stroke="#26a69a" stroke-width="1"/>
<rect x="833.19" y="249.7" width="4.3" height="4.10" fill="#26a69a"/>
<line x1="841.19" y1="245.2" x2="841.19" y2="250.0" stroke="#26a69a" stroke-width="1"/>
<rect x="839.04" y="248.2" width="4.3" height="1.80" fill="#26a69a"/>
<line x1="847.05" y1="246.9" x2="847.05" y2="264.8" stroke="#ef5350" stroke-width="1"/>
<rect x="844.90" y="247.8" width="4.3" height="10.30" fill="#ef5350"/>
<line x1="852.90" y1="251.6" x2="852.90" y2="278.7" stroke="#ef5350" stroke-width="1"/>
<rect x="850.75" y="257.5" width="4.3" height="10.40" fill="#ef5350"/>
<line x1="858.76" y1="253.0" x2="858.76" y2="267.9" stroke="#26a69a" stroke-width="1"/>
<rect x="856.61" y="260.1" width="4.3" height="7.80" fill="#26a69a"/>
<line x1="864.61" y1="256.4" x2="864.61" y2="264.2" stroke="#ef5350" stroke-width="1"/>
<rect x="862.46" y="261.25" width="4.3" height="1.80" fill="#ef5350"/>
<line x1="870.46" y1="259.8" x2="870.46" y2="271.5" stroke="#ef5350" stroke-width="1"/>
<rect x="868.31" y="262.0" width="4.3" height="5.60" fill="#ef5350"/>
<line x1="876.32" y1="267.3" x2="876.32" y2="271.0" stroke="#ef5350" stroke-width="1"/>
<rect x="874.17" y="267.3" width="4.3" height="3.70" fill="#ef5350"/>
<polyline points="-1.78,418.6 4.07,415 9.93,404.2 15.78,397 21.63,394.6 27.49,395.8 33.34,401.8 39.20,406 45.05,412 50.90,414.4 56.76,413.2 62.61,418.6 68.47,419 74.32,413.2 80.17,398.8 86.03,389.8 91.88,380.8 97.74,383.2 103.59,384.4 109.44,377.2 115.30,371 121.15,354.6 127.01,345 132.86,339 138.71,350.4 144.57,360.6 150.42,355.8 156.28,352.6 162.13,369.8 167.98,392.2 173.84,413.2 179.69,414.4 185.55,402.4 191.40,384.4 197.25,371.4 203.11,361.2 208.96,347.4 214.82,339 220.67,328.2 226.52,334.8 232.38,337.2 238.23,354.6 244.09,353.4 249.94,355.2 255.79,348 261.65,355.8 267.50,365.4 273.36,364.2 279.21,349.2 285.06,336.6 290.92,334.4 296.77,344.4 302.63,358.2 308.48,365.4 314.33,377.2 320.19,391 326.04,396.6 331.90,397 337.75,385.6 343.60,382.6 349.46,371.2 355.31,356.4 361.17,344.2 367.02,344.6 372.87,347.4 378.73,351 384.58,354.6 390.44,358.2 396.29,367.2 402.14,379.6 408.00,397.6 413.85,411.4 419.71,420.2 425.56,418 431.41,418.3 437.27,414.4 443.12,417.4 448.98,418.3 454.83,422.8 460.68,418.3 466.54,415.4 472.39,401.4 478.25,391.6 484.10,382 489.95,382.6 495.81,376 501.66,374.2 507.52,364.2 513.37,366.6 519.22,361.8 525.08,357.6 530.93,351.6 536.79,345.6 542.64,347.4 548.49,355.8 554.35,377.2 560.20,392.2 566.06,406.6 571.91,402.1 577.76,400.2 583.62,384.8 589.47,383.6 595.33,384.2 601.18,398 607.03,407.6 612.89,413 618.74,408.5 624.60,405.2 630.45,407 636.30,416.4 642.16,412.4 648.01,415.2 653.87,405.2 659.72,408.2 665.57,395.1 671.43,388.5 677.28,387.4 683.14,365.8 688.99,364.8 694.84,358.8 700.70,386.2 706.55,395.8 712.41,401.8 718.26,407.8 724.11,412.6 729.97,416.8 735.82,415.4 741.68,417.4 747.53,419.2 753.38,420.7 759.24,418.2 765.09,418.3 770.95,415 776.80,413.7 782.65,412 788.51,406.3 794.36,405.3 800.22,391.4 806.07,385.7 811.92,381.7 817.78,381.3 823.63,393 829.49,400 835.34,412 841.19,408.3 847.05,407.4 852.90,407 858.76,403.9 864.61,397.7 870.46,397.3 876.32,405" fill="none" stroke="#f68a3a" stroke-width="1.25" stroke-linejoin="round"/>
<polyline points="-1.78,412 4.07,415 9.93,386.2 15.78,390.4 21.63,405.4 27.49,392.2 33.34,405 39.20,419.2 45.05,410.2 50.90,413.8 56.76,414.4 62.61,427.6 68.47,413 74.32,398.2 80.17,385 86.03,386.8 91.88,370.2 97.74,392.2 103.59,390.4 109.44,353.4 115.30,370.8 121.15,347 127.01,321.6 132.86,345.7 138.71,372.5 144.57,356.8 150.42,340.2 156.28,364.3 162.13,398.8 167.98,418 173.84,420.4 179.69,404.8 185.55,380.8 191.40,369.6 197.25,363 203.11,353.4 208.96,328.6 214.82,334.2 220.67,321 226.52,350.4 232.38,339 238.23,373 244.09,345.4 249.94,345.4 255.79,354 261.65,363 267.50,374.8 273.36,347 279.21,319.4 285.06,339.6 290.92,345 296.77,346.6 302.63,381.4 308.48,369.5 314.33,380.2 320.19,424 326.04,385.6 331.90,382 337.75,386.8 343.60,380.8 349.46,350.4 355.31,340.6 361.17,343.4 367.02,350.6 372.87,347.8 378.73,354 384.58,359.8 390.44,362.4 396.29,378 402.14,400 408.00,424 413.85,415.4 419.71,421.4 425.56,417.4 431.41,416.2 437.27,408.4 443.12,428.8 448.98,418 454.83,422.6 460.68,414.2 466.54,409.4 472.39,384.6 478.25,381.8 484.10,380.2 489.95,385 495.81,362.4 501.66,373.6 507.52,357.4 513.37,367.2 519.22,361.2 525.08,346.2 530.93,350.6 536.79,340.2 542.64,351.6 548.49,371.2 554.35,408.4 560.20,398.2 566.06,415.4 571.91,392.6 577.76,391.8 583.62,369.8 589.47,389 595.33,394.4 601.18,410 607.03,418.4 612.89,411.8 618.74,396.4 624.60,408.8 630.45,414.8 636.30,423.2 642.16,399.2 648.01,423.2 653.87,394 659.72,407.6 665.57,382.2 671.43,374.7 677.28,405.4 683.14,318.2 688.99,370 694.84,386.2 700.70,400 706.55,401.4 712.41,403.6 718.26,418.3 724.11,416.2 729.97,415.9 735.82,414.2 741.68,421.4 747.53,422.2 753.38,418.6 759.24,414.8 765.09,420.8 770.95,409.3 776.80,412.3 782.65,416.3 788.51,390.6 794.36,410.6 800.22,372.3 806.07,373.7 811.92,399.7 817.78,370.6 823.63,410.3 829.49,416.7 835.34,408.7 841.19,401.3 847.05,412.7 852.90,407.4 858.76,391.7 864.61,395.4 870.46,406.3 876.32,413.7" fill="none" stroke="#3366ff" stroke-width="1.15" stroke-linejoin="round"/>
<path d="M500.2,84.6 H549.4 Q554.4,84.6 554.4,89.6 V110 Q554.4,115 549.4,115 H532 L501.4,146 L517.6,115 H500.2 Q495.2,115 495.2,110 V89.6 Q495.2,84.6 500.2,84.6 Z" fill="#5e8af8" stroke="#4b9ccc" stroke-width="0.8"/>
<text x="504" y="103.6" font-family="Liberation Sans" font-style="italic" font-size="12.8" fill="#fff" stroke="#fff" stroke-width="0.45" textLength="41.8" lengthAdjust="spacingAndGlyphs">EMA-50</text>
<circle cx="876.8" cy="291.7" r="8.35" fill="#fff" stroke="#9c27b0" stroke-width="1.35"/>
<path d="M879.3,287.4 L873.6,292 L880,292 L874.4,296.2" fill="none" stroke="#9c27b0" stroke-width="1.7" stroke-linecap="round" stroke-linejoin="round"/>
<circle cx="904.6" cy="291.7" r="8.3" fill="#fff" stroke="#f23645" stroke-width="1.7"/>
<circle cx="905.5" cy="291.7" r="6.2" fill="#3a7bf0"/>
<text x="0.6" y="16.7" font-family="Liberation Sans" font-size="12" fill="#4e5159" textLength="9.8" lengthAdjust="spacingAndGlyphs"  stroke="#4e5159" stroke-width="0.15">on</text>
<text x="15.2" y="16.7" font-family="Liberation Sans" font-size="12" fill="#4e5159" textLength="83.8" lengthAdjust="spacingAndGlyphs"  stroke="#4e5159" stroke-width="0.15">TradingView.com,</text>
<text x="101.6" y="16.7" font-family="Liberation Sans" font-size="12" fill="#4e5159" textLength="16.0" lengthAdjust="spacingAndGlyphs"  stroke="#4e5159" stroke-width="0.15">Jun</text>
<text x="120.8" y="16.7" font-family="Liberation Sans" font-size="12" fill="#4e5159" textLength="14.8" lengthAdjust="spacingAndGlyphs"  stroke="#4e5159" stroke-width="0.15">22,</text>
<text x="139.6" y="16.7" font-family="Liberation Sans" font-size="12" fill="#4e5159" textLength="21.4" lengthAdjust="spacingAndGlyphs"  stroke="#4e5159" stroke-width="0.15">2024</text>
<text x="164.9" y="16.7" font-family="Liberation Sans" font-size="12" fill="#4e5159" textLength="25.4" lengthAdjust="spacingAndGlyphs"  stroke="#4e5159" stroke-width="0.15">12:03</text>
<text x="193.6" y="16.7" font-family="Liberation Sans" font-size="12" fill="#4e5159" textLength="29.4" lengthAdjust="spacingAndGlyphs"  stroke="#4e5159" stroke-width="0.15">UTC+1</text>
<text x="19.3" y="40.3" font-family="Liberation Sans" font-size="11.3" fill="#5b5e67" textLength="28.9" lengthAdjust="spacingAndGlyphs"  stroke="#5b5e67" stroke-width="0.15">Dollar,</text>
<text x="52.2" y="40.3" font-family="Liberation Sans" font-size="11.3" fill="#5b5e67" textLength="14.8" lengthAdjust="spacingAndGlyphs"  stroke="#5b5e67" stroke-width="0.15">1D,</text>
<text x="70.9" y="40.3" font-family="Liberation Sans" font-size="11.3" fill="#5b5e67" textLength="45.5" lengthAdjust="spacingAndGlyphs"  stroke="#5b5e67" stroke-width="0.15">COINBASE</text>
<text transform="translate(15.9,40.3) scale(0.84,1)" text-anchor="end" font-family="Liberation Sans" font-size="11.3" fill="#5b5e67"  stroke="#5b5e67" stroke-width="0.15">ates</text>
<text transform="translate(34.9,54.7) scale(0.84,1)" text-anchor="end" font-family="Liberation Sans" font-size="11.3" fill="#5b5e67"  stroke="#5b5e67" stroke-width="0.15">SMA, 5)</text>
<text x="123.6" y="40.3" font-family="Liberation Sans" font-size="11.3" fill="#5b5e67" textLength="32.8" lengthAdjust="spacingAndGlyphs"  stroke="#5b5e67" stroke-width="0.15">O<tspan fill="#f04a55" stroke="#f04a55">76.42</tspan></text>
<text x="162.6" y="40.3" font-family="Liberation Sans" font-size="11.3" fill="#5b5e67" textLength="33" lengthAdjust="spacingAndGlyphs"  stroke="#5b5e67" stroke-width="0.15">H<tspan fill="#f04a55" stroke="#f04a55">76.46</tspan></text>
<text x="202.2" y="40.3" font-family="Liberation Sans" font-size="11.3" fill="#5b5e67" textLength="30.8" lengthAdjust="spacingAndGlyphs"  stroke="#5b5e67" stroke-width="0.15">L<tspan fill="#f04a55" stroke="#f04a55">74.70</tspan></text>
<text x="239.1" y="40.3" font-family="Liberation Sans" font-size="11.3" fill="#5b5e67" textLength="32.5" lengthAdjust="spacingAndGlyphs"  stroke="#5b5e67" stroke-width="0.15">C<tspan fill="#f04a55" stroke="#f04a55">75.28</tspan></text>
<text x="278.2" y="40.3" font-family="Liberation Sans" font-size="11.3" fill="#f04a55" textLength="68.9" lengthAdjust="spacingAndGlyphs"  stroke="#f04a55" stroke-width="0.15">−1.19 (−1.56%)</text>
<text x="678.3" y="37.9" font-family="Liberation Sans" font-size="12.5" fill="#3d3f44" textLength="123.4" lengthAdjust="spacingAndGlyphs"  stroke="#3d3f44" stroke-width="0.15">Upper Resistance Area</text>
<text x="-6.3" y="330" font-family="Liberation Sans" font-size="12.5" fill="#3d3f44" textLength="44.6" lengthAdjust="spacingAndGlyphs"  stroke="#3d3f44" stroke-width="0.15">Support</text>
<text x="42.1" y="330" font-family="Liberation Sans" font-size="12.5" fill="#3d3f44" textLength="25.1" lengthAdjust="spacingAndGlyphs"  stroke="#3d3f44" stroke-width="0.15">Area</text>
<text transform="translate(812.8,335) scale(0.99,1)" font-family="Liberation Sans" font-size="12.5" fill="#3d3f44"  stroke="#3d3f44" stroke-width="0.15">Overbought Region</text>
<text transform="translate(830.6,434.4) scale(1.0,1)" font-family="Liberation Sans" font-size="12.5" fill="#3d3f44"  stroke="#3d3f44" stroke-width="0.15">Oversold Region</text>
<text transform="translate(44.5,460.5) scale(0.9,1)" text-anchor="middle" font-family="Liberation Sans" font-size="11.5" fill="#4a4d55"  stroke="#4a4d55" stroke-width="0.15">Feb</text>
<text transform="translate(115,460.5) scale(0.9,1)" text-anchor="middle" font-family="Liberation Sans" font-size="11.5" fill="#4a4d55"  stroke="#4a4d55" stroke-width="0.15">13</text>
<text transform="translate(215,460.5) scale(0.9,1)" text-anchor="middle" font-family="Liberation Sans" font-size="11.5" fill="#4a4d55"  stroke="#4a4d55" stroke-width="0.15">Mar</text>
<text transform="translate(314,460.5) scale(0.9,1)" text-anchor="middle" font-family="Liberation Sans" font-size="11.5" fill="#4a4d55"  stroke="#4a4d55" stroke-width="0.15">18</text>
<text transform="translate(396,460.5) scale(0.9,1)" text-anchor="middle" font-family="Liberation Sans" font-size="11.5" fill="#4a4d55"  stroke="#4a4d55" stroke-width="0.15">Apr</text>
<text transform="translate(478.5,460.5) scale(0.9,1)" text-anchor="middle" font-family="Liberation Sans" font-size="11.5" fill="#4a4d55"  stroke="#4a4d55" stroke-width="0.15">15</text>
<text transform="translate(571.5,460.5) scale(0.9,1)" text-anchor="middle" font-family="Liberation Sans" font-size="11.5" fill="#4a4d55"  stroke="#4a4d55" stroke-width="0.15">May</text>
<text transform="translate(641.5,460.5) scale(0.9,1)" text-anchor="middle" font-family="Liberation Sans" font-size="11.5" fill="#4a4d55"  stroke="#4a4d55" stroke-width="0.15">13</text>
<text transform="translate(752.5,460.5) scale(0.9,1)" text-anchor="middle" font-family="Liberation Sans" font-size="11.5" fill="#4a4d55"  stroke="#4a4d55" stroke-width="0.15">Jun</text>
<text transform="translate(846.5,460.5) scale(0.9,1)" text-anchor="middle" font-family="Liberation Sans" font-size="11.5" fill="#4a4d55"  stroke="#4a4d55" stroke-width="0.15">17</text>
</svg>
</body></html>
